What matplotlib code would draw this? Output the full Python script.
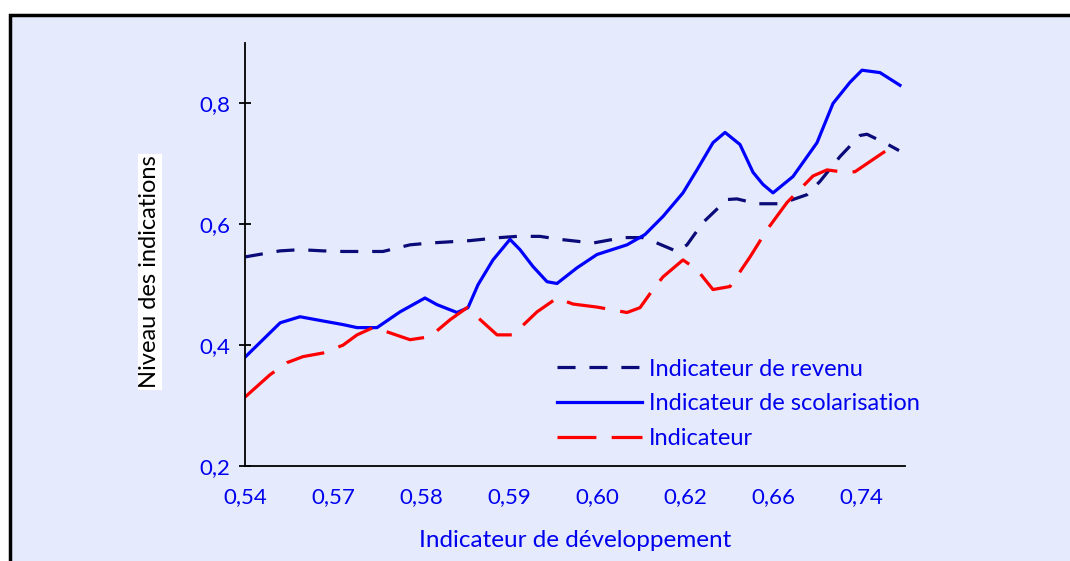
import matplotlib.pyplot as plt
from matplotlib.patches import Rectangle

plt.rcParams['font.family'] = ['Lato', 'DejaVu Sans']
plt.rcParams['lines.scale_dashes'] = False

# x positions in units of label slots (0 = "0,54", 1 = "0,57", ...)
tick_labels = ['0,54', '0,57', '0,58', '0,59', '0,60', '0,62', '0,66', '0,74']

x_scol = [0, 0.40, 0.625, 0.886, 1.114, 1.273, 1.5, 1.761, 2.045, 2.182, 2.409, 2.534,
          2.648, 2.818, 3.011, 3.125, 3.273, 3.432, 3.545, 3.773, 4.0, 4.341, 4.545,
          4.75, 4.977, 5.136, 5.318, 5.455, 5.625, 5.773, 5.886, 6.0, 6.227, 6.5,
          6.682, 6.875, 7.011, 7.216, 7.443]
y_scol = [0.38, 0.437, 0.447, 0.440, 0.434, 0.429, 0.429, 0.455, 0.478, 0.467, 0.454, 0.462,
          0.50, 0.541, 0.575, 0.558, 0.530, 0.505, 0.502, 0.528, 0.55, 0.566, 0.583,
          0.613, 0.652, 0.69, 0.735, 0.752, 0.732, 0.686, 0.666, 0.652, 0.679, 0.735,
          0.80, 0.835, 0.855, 0.851, 0.83]

x_ind = [0, 0.284, 0.477, 0.659, 0.886, 1.114, 1.273, 1.455, 1.614, 1.875, 2.102, 2.330,
         2.523, 2.636, 2.864, 3.045, 3.318, 3.545, 3.727, 4.0, 4.341, 4.489, 4.636, 4.75,
         4.977, 5.136, 5.318, 5.511, 5.739, 5.932, 6.159, 6.455, 6.614, 6.818, 6.932,
         7.114, 7.307]
y_ind = [0.314, 0.351, 0.371, 0.381, 0.387, 0.40, 0.417, 0.429, 0.422, 0.409, 0.414, 0.442,
         0.462, 0.447, 0.417, 0.417, 0.455, 0.478, 0.468, 0.463, 0.454, 0.462, 0.492, 0.513,
         0.541, 0.525, 0.492, 0.497, 0.546, 0.591, 0.636, 0.680, 0.690, 0.686, 0.687,
         0.705, 0.724]

x_rev = [0, 0.398, 0.625, 0.886, 1.114, 1.568, 1.875, 2.102, 2.557, 2.898, 3.091, 3.352,
         3.580, 3.955, 4.295, 4.523, 4.682, 4.909, 5.023, 5.205, 5.477, 5.591, 5.818,
         6.080, 6.227, 6.386, 6.534, 6.761, 6.989, 7.068, 7.307, 7.432]
y_rev = [0.546, 0.556, 0.558, 0.556, 0.555, 0.555, 0.566, 0.569, 0.573, 0.578, 0.58, 0.58,
         0.575, 0.569, 0.578, 0.578, 0.569, 0.555, 0.566, 0.603, 0.641, 0.642, 0.634,
         0.634, 0.641, 0.649, 0.671, 0.712, 0.747, 0.749, 0.732, 0.722]

fig = plt.figure(figsize=(10.7, 5.61), dpi=100)
fig.patches.append(Rectangle((10 / 1070, -0.1), 1.2, 1 - 15 / 561 + 0.1,
                             transform=fig.transFigure, facecolor='#e5eafc',
                             edgecolor='black', linewidth=2.5, zorder=-10))

ax = fig.add_axes([245 / 1070, 1 - 466 / 561, 660 / 1070, 423 / 561])
ax.patch.set_alpha(0)

ax.plot(x_rev, y_rev, color='#0a0a78', lw=2.3, dashes=(13, 10), label='Indicateur de revenu')
ax.plot(x_scol, y_scol, color='#0000ff', lw=2.3, label='Indicateur de scolarisation')
ax.plot(x_ind, y_ind, color='#ff0000', lw=2.3, dashes=(28, 11), label='Indicateur')

ax.set_xlim(0, 7.5)
ax.set_ylim(0.2, 0.9)
ax.set_yticks([0.2, 0.4, 0.6, 0.8])
ax.set_yticklabels(['0,2', '0,4', '0,6', '0,8'])
ax.set_xticks(range(8))
ax.set_xticklabels(tick_labels)
ax.tick_params(axis='y', direction='inout', length=9, width=1.3, colors='black',
               labelcolor='#0000ee', labelsize=16, pad=6)
ax.tick_params(axis='x', length=0, labelcolor='#0000ee', labelsize=16, pad=15)

for s in ['top', 'right']:
    ax.spines[s].set_visible(False)
for s in ['left', 'bottom']:
    ax.spines[s].set_linewidth(1.3)

ax.set_xlabel('Indicateur de développement', color='#0000ee', fontsize=17.5, labelpad=17)
fig.text(150 / 1070, 1 - 272 / 561, 'Niveau des indications', rotation=90,
         ha='center', va='center', fontsize=17, color='black',
         bbox=dict(facecolor='white', edgecolor='none', pad=1))

leg = ax.legend(loc='lower left', bbox_to_anchor=(0.44, -0.01), frameon=False,
                fontsize=17, handlelength=3.6, handletextpad=0.3, labelspacing=0.58,
                labelcolor='#0000ee')

fig.savefig('out.png', dpi=100)
